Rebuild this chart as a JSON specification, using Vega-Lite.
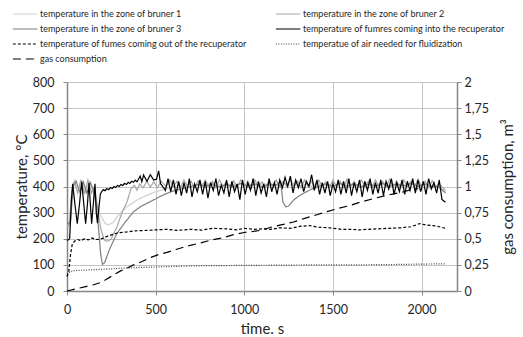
{
  "$schema": "https://vega.github.io/schema/vega-lite/v6.json",
  "autosize": {"type": "none"},
  "width": 390,
  "height": 209,
  "padding": {"left": 67, "top": 82, "right": 66, "bottom": 46},
  "config": {
    "view": {"stroke": null},
    "font": "Lato",
    "axis": {"domainColor": "#868686", "domainWidth": 1.5, "tickColor": "#868686", "tickSize": 4, "gridColor": "#c4c4c4", "gridWidth": 1, "labelFont": "Lato", "labelFontSize": 12.5, "labelColor": "#262626", "titleFont": "Lato", "titleFontSize": 15, "titleFontWeight": "normal", "titleColor": "#262626"},
    "legend": {"orient": "none", "direction": "horizontal", "legendX": -55, "legendY": -75, "columns": 2, "columnPadding": 26, "rowPadding": 3, "symbolType": "M-1,0H3", "symbolSize": 150, "labelFont": "Lato", "labelFontSize": 9, "labelLimit": 400, "labelColor": "#262626", "labelOffset": 14, "title": null}
  },
  "datasets": {
    "temps": [
      {"s":"b1","t":0,"v":250},{"s":"b1","t":15,"v":245},{"s":"b1","t":28,"v":390},{"s":"b1","t":45,"v":425},{"s":"b1","t":65,"v":385},{"s":"b1","t":85,"v":420},{"s":"b1","t":105,"v":378},{"s":"b1","t":125,"v":420},{"s":"b1","t":145,"v":385},{"s":"b1","t":165,"v":340},{"s":"b1","t":190,"v":290},{"s":"b1","t":215,"v":258},{"s":"b1","t":235,"v":253},{"s":"b1","t":260,"v":262},{"s":"b1","t":290,"v":290},{"s":"b1","t":338,"v":323},{"s":"b1","t":400,"v":350},{"s":"b1","t":451,"v":367},{"s":"b1","t":500,"v":380},{"s":"b1","t":564,"v":393},{"s":"b1","t":600,"v":398},{"s":"b1","t":630,"v":405},{"s":"b1","t":660,"v":398},{"s":"b1","t":690,"v":410},{"s":"b1","t":720,"v":400},{"s":"b1","t":750,"v":412},{"s":"b1","t":780,"v":402},{"s":"b1","t":810,"v":415},{"s":"b1","t":840,"v":400},{"s":"b1","t":870,"v":410},{"s":"b1","t":900,"v":398},{"s":"b1","t":930,"v":412},{"s":"b1","t":960,"v":402},{"s":"b1","t":990,"v":415},{"s":"b1","t":1020,"v":400},{"s":"b1","t":1050,"v":410},{"s":"b1","t":1080,"v":398},{"s":"b1","t":1110,"v":412},{"s":"b1","t":1140,"v":402},{"s":"b1","t":1170,"v":410},{"s":"b1","t":1200,"v":400},{"s":"b1","t":1230,"v":412},{"s":"b1","t":1260,"v":405},{"s":"b1","t":1290,"v":415},{"s":"b1","t":1320,"v":400},{"s":"b1","t":1350,"v":410},{"s":"b1","t":1380,"v":402},{"s":"b1","t":1410,"v":415},{"s":"b1","t":1440,"v":400},{"s":"b1","t":1470,"v":410},{"s":"b1","t":1500,"v":398},{"s":"b1","t":1530,"v":412},{"s":"b1","t":1560,"v":402},{"s":"b1","t":1590,"v":415},{"s":"b1","t":1620,"v":400},{"s":"b1","t":1650,"v":410},{"s":"b1","t":1680,"v":398},{"s":"b1","t":1710,"v":412},{"s":"b1","t":1740,"v":402},{"s":"b1","t":1770,"v":415},{"s":"b1","t":1800,"v":400},{"s":"b1","t":1830,"v":412},{"s":"b1","t":1860,"v":402},{"s":"b1","t":1890,"v":410},{"s":"b1","t":1920,"v":400},{"s":"b1","t":1950,"v":415},{"s":"b1","t":1980,"v":402},{"s":"b1","t":2010,"v":410},{"s":"b1","t":2040,"v":398},{"s":"b1","t":2070,"v":405},{"s":"b1","t":2100,"v":395},{"s":"b1","t":2135,"v":380},

      {"s":"b2","t":0,"v":245},{"s":"b2","t":12,"v":255},{"s":"b2","t":25,"v":360},{"s":"b2","t":40,"v":420},{"s":"b2","t":60,"v":375},{"s":"b2","t":78,"v":425},{"s":"b2","t":98,"v":372},{"s":"b2","t":118,"v":425},{"s":"b2","t":138,"v":375},{"s":"b2","t":155,"v":400},{"s":"b2","t":170,"v":330},{"s":"b2","t":190,"v":240},{"s":"b2","t":210,"v":195},{"s":"b2","t":230,"v":190},{"s":"b2","t":250,"v":200},{"s":"b2","t":282,"v":246},{"s":"b2","t":310,"v":300},{"s":"b2","t":338,"v":340},{"s":"b2","t":360,"v":390},{"s":"b2","t":380,"v":405},{"s":"b2","t":395,"v":385},{"s":"b2","t":410,"v":410},{"s":"b2","t":430,"v":395},{"s":"b2","t":450,"v":420},{"s":"b2","t":470,"v":398},{"s":"b2","t":490,"v":418},{"s":"b2","t":510,"v":395},{"s":"b2","t":530,"v":420},{"s":"b2","t":560,"v":400},{"s":"b2","t":580,"v":425},{"s":"b2","t":600,"v":398},{"s":"b2","t":620,"v":420},{"s":"b2","t":640,"v":395},{"s":"b2","t":660,"v":425},{"s":"b2","t":680,"v":400},{"s":"b2","t":700,"v":420},{"s":"b2","t":720,"v":395},{"s":"b2","t":740,"v":422},{"s":"b2","t":760,"v":400},{"s":"b2","t":780,"v":425},{"s":"b2","t":800,"v":398},{"s":"b2","t":820,"v":420},{"s":"b2","t":840,"v":395},{"s":"b2","t":860,"v":425},{"s":"b2","t":880,"v":400},{"s":"b2","t":900,"v":418},{"s":"b2","t":920,"v":395},{"s":"b2","t":940,"v":422},{"s":"b2","t":960,"v":398},{"s":"b2","t":980,"v":425},{"s":"b2","t":1000,"v":400},{"s":"b2","t":1020,"v":420},{"s":"b2","t":1040,"v":395},{"s":"b2","t":1060,"v":425},{"s":"b2","t":1080,"v":400},{"s":"b2","t":1100,"v":418},{"s":"b2","t":1120,"v":395},{"s":"b2","t":1140,"v":422},{"s":"b2","t":1160,"v":400},{"s":"b2","t":1180,"v":425},{"s":"b2","t":1200,"v":398},{"s":"b2","t":1220,"v":420},{"s":"b2","t":1240,"v":400},{"s":"b2","t":1260,"v":428},{"s":"b2","t":1280,"v":400},{"s":"b2","t":1300,"v":420},{"s":"b2","t":1320,"v":395},{"s":"b2","t":1340,"v":425},{"s":"b2","t":1360,"v":400},{"s":"b2","t":1380,"v":420},{"s":"b2","t":1400,"v":395},{"s":"b2","t":1420,"v":425},{"s":"b2","t":1440,"v":400},{"s":"b2","t":1460,"v":418},{"s":"b2","t":1480,"v":395},{"s":"b2","t":1500,"v":425},{"s":"b2","t":1520,"v":400},{"s":"b2","t":1540,"v":420},{"s":"b2","t":1560,"v":395},{"s":"b2","t":1580,"v":428},{"s":"b2","t":1600,"v":400},{"s":"b2","t":1620,"v":420},{"s":"b2","t":1640,"v":398},{"s":"b2","t":1660,"v":425},{"s":"b2","t":1680,"v":400},{"s":"b2","t":1700,"v":420},{"s":"b2","t":1720,"v":395},{"s":"b2","t":1740,"v":425},{"s":"b2","t":1760,"v":400},{"s":"b2","t":1780,"v":420},{"s":"b2","t":1800,"v":398},{"s":"b2","t":1820,"v":428},{"s":"b2","t":1840,"v":400},{"s":"b2","t":1860,"v":420},{"s":"b2","t":1880,"v":395},{"s":"b2","t":1900,"v":425},{"s":"b2","t":1920,"v":400},{"s":"b2","t":1940,"v":420},{"s":"b2","t":1960,"v":398},{"s":"b2","t":1980,"v":428},{"s":"b2","t":2000,"v":400},{"s":"b2","t":2020,"v":420},{"s":"b2","t":2040,"v":395},{"s":"b2","t":2060,"v":422},{"s":"b2","t":2080,"v":400},{"s":"b2","t":2100,"v":410},{"s":"b2","t":2135,"v":385},

      {"s":"b3","t":0,"v":255},{"s":"b3","t":20,"v":265},{"s":"b3","t":35,"v":400},{"s":"b3","t":52,"v":420},{"s":"b3","t":72,"v":378},{"s":"b3","t":92,"v":418},{"s":"b3","t":112,"v":375},{"s":"b3","t":132,"v":415},{"s":"b3","t":152,"v":380},{"s":"b3","t":165,"v":330},{"s":"b3","t":178,"v":240},{"s":"b3","t":190,"v":140},{"s":"b3","t":200,"v":102},{"s":"b3","t":212,"v":108},{"s":"b3","t":240,"v":160},{"s":"b3","t":282,"v":221},{"s":"b3","t":330,"v":265},{"s":"b3","t":376,"v":304},{"s":"b3","t":420,"v":325},{"s":"b3","t":470,"v":342},{"s":"b3","t":520,"v":360},{"s":"b3","t":564,"v":374},{"s":"b3","t":610,"v":385},{"s":"b3","t":658,"v":393},{"s":"b3","t":700,"v":400},{"s":"b3","t":740,"v":408},{"s":"b3","t":780,"v":400},{"s":"b3","t":820,"v":410},{"s":"b3","t":860,"v":398},{"s":"b3","t":900,"v":408},{"s":"b3","t":940,"v":400},{"s":"b3","t":980,"v":412},{"s":"b3","t":1020,"v":400},{"s":"b3","t":1060,"v":410},{"s":"b3","t":1100,"v":398},{"s":"b3","t":1140,"v":410},{"s":"b3","t":1180,"v":405},{"s":"b3","t":1205,"v":420},{"s":"b3","t":1218,"v":340},{"s":"b3","t":1235,"v":322},{"s":"b3","t":1250,"v":325},{"s":"b3","t":1278,"v":348},{"s":"b3","t":1305,"v":362},{"s":"b3","t":1335,"v":374},{"s":"b3","t":1365,"v":385},{"s":"b3","t":1391,"v":393},{"s":"b3","t":1420,"v":400},{"s":"b3","t":1460,"v":410},{"s":"b3","t":1500,"v":400},{"s":"b3","t":1540,"v":412},{"s":"b3","t":1580,"v":400},{"s":"b3","t":1620,"v":410},{"s":"b3","t":1660,"v":398},{"s":"b3","t":1700,"v":410},{"s":"b3","t":1740,"v":400},{"s":"b3","t":1780,"v":412},{"s":"b3","t":1820,"v":400},{"s":"b3","t":1860,"v":410},{"s":"b3","t":1900,"v":402},{"s":"b3","t":1940,"v":412},{"s":"b3","t":1980,"v":400},{"s":"b3","t":2020,"v":410},{"s":"b3","t":2060,"v":400},{"s":"b3","t":2100,"v":398},{"s":"b3","t":2135,"v":375},

      {"s":"ai","t":0,"v":65},{"s":"ai","t":15,"v":72},{"s":"ai","t":40,"v":78},{"s":"ai","t":100,"v":80},{"s":"ai","t":200,"v":83},{"s":"ai","t":300,"v":87},{"s":"ai","t":400,"v":90},{"s":"ai","t":500,"v":92},{"s":"ai","t":600,"v":94},{"s":"ai","t":700,"v":96},{"s":"ai","t":800,"v":97},{"s":"ai","t":1000,"v":98},{"s":"ai","t":1200,"v":99},{"s":"ai","t":1400,"v":100},{"s":"ai","t":1600,"v":100},{"s":"ai","t":1800,"v":101},{"s":"ai","t":2000,"v":103},{"s":"ai","t":2135,"v":104},

      {"s":"fo","t":0,"v":55},{"s":"fo","t":10,"v":75},{"s":"fo","t":20,"v":140},{"s":"fo","t":30,"v":180},{"s":"fo","t":45,"v":192},{"s":"fo","t":60,"v":197},{"s":"fo","t":80,"v":193},{"s":"fo","t":100,"v":200},{"s":"fo","t":120,"v":196},{"s":"fo","t":140,"v":203},{"s":"fo","t":160,"v":197},{"s":"fo","t":188,"v":198},{"s":"fo","t":230,"v":210},{"s":"fo","t":282,"v":222},{"s":"fo","t":338,"v":226},{"s":"fo","t":376,"v":230},{"s":"fo","t":450,"v":232},{"s":"fo","t":500,"v":234},{"s":"fo","t":564,"v":236},{"s":"fo","t":620,"v":232},{"s":"fo","t":700,"v":236},{"s":"fo","t":760,"v":233},{"s":"fo","t":820,"v":240},{"s":"fo","t":900,"v":238},{"s":"fo","t":960,"v":234},{"s":"fo","t":1000,"v":240},{"s":"fo","t":1060,"v":236},{"s":"fo","t":1100,"v":238},{"s":"fo","t":1150,"v":236},{"s":"fo","t":1200,"v":242},{"s":"fo","t":1260,"v":240},{"s":"fo","t":1320,"v":248},{"s":"fo","t":1370,"v":250},{"s":"fo","t":1420,"v":244},{"s":"fo","t":1480,"v":242},{"s":"fo","t":1550,"v":236},{"s":"fo","t":1600,"v":236},{"s":"fo","t":1650,"v":234},{"s":"fo","t":1700,"v":236},{"s":"fo","t":1760,"v":238},{"s":"fo","t":1820,"v":240},{"s":"fo","t":1880,"v":242},{"s":"fo","t":1940,"v":246},{"s":"fo","t":1990,"v":258},{"s":"fo","t":2030,"v":252},{"s":"fo","t":2070,"v":250},{"s":"fo","t":2100,"v":246},{"s":"fo","t":2135,"v":240},

      {"s":"fi","t":0,"v":193},{"s":"fi","t":15,"v":200},{"s":"fi","t":25,"v":350},{"s":"fi","t":32,"v":410},{"s":"fi","t":45,"v":330},{"s":"fi","t":58,"v":258},{"s":"fi","t":70,"v":330},{"s":"fi","t":83,"v":418},{"s":"fi","t":95,"v":330},{"s":"fi","t":105,"v":258},{"s":"fi","t":115,"v":330},{"s":"fi","t":124,"v":413},{"s":"fi","t":132,"v":330},{"s":"fi","t":139,"v":258},{"s":"fi","t":148,"v":330},{"s":"fi","t":158,"v":410},{"s":"fi","t":165,"v":300},{"s":"fi","t":172,"v":260},{"s":"fi","t":180,"v":320},{"s":"fi","t":188,"v":370},{"s":"fi","t":195,"v":380},{"s":"fi","t":205,"v":388},{"s":"fi","t":215,"v":384},{"s":"fi","t":225,"v":392},{"s":"fi","t":235,"v":388},{"s":"fi","t":245,"v":396},{"s":"fi","t":255,"v":392},{"s":"fi","t":265,"v":400},{"s":"fi","t":275,"v":396},{"s":"fi","t":285,"v":404},{"s":"fi","t":295,"v":400},{"s":"fi","t":305,"v":408},{"s":"fi","t":315,"v":404},{"s":"fi","t":325,"v":412},{"s":"fi","t":335,"v":408},{"s":"fi","t":345,"v":416},{"s":"fi","t":355,"v":412},{"s":"fi","t":365,"v":420},{"s":"fi","t":375,"v":416},{"s":"fi","t":385,"v":424},{"s":"fi","t":395,"v":418},{"s":"fi","t":413,"v":440},{"s":"fi","t":422,"v":418},{"s":"fi","t":432,"v":444},{"s":"fi","t":451,"v":420},{"s":"fi","t":470,"v":445},{"s":"fi","t":489,"v":425},{"s":"fi","t":505,"v":428},{"s":"fi","t":517,"v":460},{"s":"fi","t":528,"v":410},{"s":"fi","t":540,"v":400},
      {"s":"fi","t":555,"v":385},{"s":"fi","t":570,"v":430},{"s":"fi","t":585,"v":380},{"s":"fi","t":600,"v":425},{"s":"fi","t":615,"v":370},{"s":"fi","t":630,"v":420},{"s":"fi","t":645,"v":365},{"s":"fi","t":660,"v":415},{"s":"fi","t":675,"v":375},{"s":"fi","t":690,"v":430},{"s":"fi","t":705,"v":360},{"s":"fi","t":720,"v":410},{"s":"fi","t":735,"v":380},{"s":"fi","t":750,"v":425},{"s":"fi","t":765,"v":370},{"s":"fi","t":780,"v":420},{"s":"fi","t":795,"v":355},{"s":"fi","t":810,"v":415},{"s":"fi","t":825,"v":385},{"s":"fi","t":840,"v":430},{"s":"fi","t":855,"v":365},{"s":"fi","t":870,"v":405},{"s":"fi","t":885,"v":375},{"s":"fi","t":900,"v":425},{"s":"fi","t":915,"v":360},{"s":"fi","t":930,"v":420},{"s":"fi","t":945,"v":380},{"s":"fi","t":960,"v":410},{"s":"fi","t":975,"v":350},{"s":"fi","t":990,"v":425},{"s":"fi","t":1005,"v":370},{"s":"fi","t":1020,"v":415},{"s":"fi","t":1035,"v":385},{"s":"fi","t":1050,"v":430},{"s":"fi","t":1065,"v":365},{"s":"fi","t":1080,"v":420},{"s":"fi","t":1095,"v":375},{"s":"fi","t":1110,"v":410},{"s":"fi","t":1125,"v":360},{"s":"fi","t":1140,"v":430},{"s":"fi","t":1155,"v":380},{"s":"fi","t":1170,"v":415},{"s":"fi","t":1185,"v":370},{"s":"fi","t":1200,"v":425},{"s":"fi","t":1215,"v":395},{"s":"fi","t":1230,"v":435},{"s":"fi","t":1245,"v":400},{"s":"fi","t":1260,"v":440},{"s":"fi","t":1275,"v":375},{"s":"fi","t":1290,"v":425},{"s":"fi","t":1305,"v":395},{"s":"fi","t":1320,"v":430},{"s":"fi","t":1335,"v":380},{"s":"fi","t":1350,"v":420},{"s":"fi","t":1365,"v":400},{"s":"fi","t":1380,"v":445},{"s":"fi","t":1395,"v":385},{"s":"fi","t":1410,"v":425},{"s":"fi","t":1425,"v":370},{"s":"fi","t":1440,"v":415},{"s":"fi","t":1455,"v":375},{"s":"fi","t":1470,"v":420},{"s":"fi","t":1485,"v":365},{"s":"fi","t":1500,"v":410},{"s":"fi","t":1515,"v":380},{"s":"fi","t":1530,"v":425},{"s":"fi","t":1545,"v":370},{"s":"fi","t":1560,"v":420},{"s":"fi","t":1575,"v":375},{"s":"fi","t":1590,"v":430},{"s":"fi","t":1605,"v":365},{"s":"fi","t":1620,"v":415},{"s":"fi","t":1635,"v":380},{"s":"fi","t":1650,"v":425},{"s":"fi","t":1665,"v":360},{"s":"fi","t":1680,"v":420},{"s":"fi","t":1695,"v":385},{"s":"fi","t":1710,"v":430},{"s":"fi","t":1725,"v":370},{"s":"fi","t":1740,"v":415},{"s":"fi","t":1755,"v":375},{"s":"fi","t":1770,"v":425},{"s":"fi","t":1785,"v":365},{"s":"fi","t":1800,"v":420},{"s":"fi","t":1815,"v":390},{"s":"fi","t":1830,"v":430},{"s":"fi","t":1845,"v":370},{"s":"fi","t":1860,"v":415},{"s":"fi","t":1875,"v":380},{"s":"fi","t":1890,"v":425},{"s":"fi","t":1905,"v":370},{"s":"fi","t":1920,"v":420},{"s":"fi","t":1935,"v":385},{"s":"fi","t":1950,"v":430},{"s":"fi","t":1965,"v":375},{"s":"fi","t":1980,"v":425},{"s":"fi","t":1995,"v":380},{"s":"fi","t":2010,"v":420},{"s":"fi","t":2025,"v":370},{"s":"fi","t":2040,"v":430},{"s":"fi","t":2055,"v":390},{"s":"fi","t":2070,"v":415},{"s":"fi","t":2085,"v":375},{"s":"fi","t":2100,"v":425},{"s":"fi","t":2115,"v":350},{"s":"fi","t":2135,"v":340}
    ],
    "gas": [
      {"s":"gas","t":0,"v":0},{"s":"gas","t":50,"v":0.02},{"s":"gas","t":100,"v":0.04},{"s":"gas","t":150,"v":0.06},{"s":"gas","t":188,"v":0.08},{"s":"gas","t":220,"v":0.11},{"s":"gas","t":260,"v":0.15},{"s":"gas","t":300,"v":0.19},{"s":"gas","t":340,"v":0.22},{"s":"gas","t":376,"v":0.25},{"s":"gas","t":420,"v":0.28},{"s":"gas","t":470,"v":0.32},{"s":"gas","t":520,"v":0.35},{"s":"gas","t":564,"v":0.37},{"s":"gas","t":620,"v":0.4},{"s":"gas","t":680,"v":0.43},{"s":"gas","t":752,"v":0.46},{"s":"gas","t":820,"v":0.49},{"s":"gas","t":880,"v":0.51},{"s":"gas","t":940,"v":0.54},{"s":"gas","t":1000,"v":0.56},{"s":"gas","t":1050,"v":0.57},{"s":"gas","t":1090,"v":0.58},{"s":"gas","t":1150,"v":0.61},{"s":"gas","t":1200,"v":0.63},{"s":"gas","t":1278,"v":0.66},{"s":"gas","t":1350,"v":0.7},{"s":"gas","t":1410,"v":0.73},{"s":"gas","t":1467,"v":0.76},{"s":"gas","t":1530,"v":0.79},{"s":"gas","t":1600,"v":0.82},{"s":"gas","t":1654,"v":0.85},{"s":"gas","t":1720,"v":0.88},{"s":"gas","t":1790,"v":0.91},{"s":"gas","t":1842,"v":0.93},{"s":"gas","t":1900,"v":0.95},{"s":"gas","t":1940,"v":0.97},{"s":"gas","t":1980,"v":0.98}
    ]
  },
  "encoding": {
    "x": {"field": "t", "type": "quantitative", "scale": {"domain": [0, 2200], "nice": false},
      "axis": {"title": "time. s", "values": [0, 500, 1000, 1500, 2000], "format": "d", "labelPadding": 8, "titlePadding": 6, "labelFlush": false}},
    "color": {"field": "s", "type": "nominal",
      "scale": {"domain": ["b1","b2","b3","fi","fo","ai","gas"], "range": ["#d0d0d0","#a6a6a6","#7f7f7f","#000000","#000000","#444444","#000000"]},
      "legend": {"labelExpr": "{'b1':'temperature in the zone of bruner 1','b2':'temperature in the zone of bruner 2','b3':'temperature in the zone of bruner 3','fi':'temperature of fumres coming into the recuperator','fo':'temperature of fumes coming out of the recuperator','ai':'temperatue of air needed for fluidization','gas':'gas consumption'}[datum.value]"}},
    "strokeDash": {"field": "s", "type": "nominal",
      "scale": {"domain": ["b1","b2","b3","fi","fo","ai","gas"], "range": [[1,0],[1,0],[1,0],[1,0],[3,2],[1,1.5],[8,5]]},
      "legend": {"labelExpr": "{'b1':'temperature in the zone of bruner 1','b2':'temperature in the zone of bruner 2','b3':'temperature in the zone of bruner 3','fi':'temperature of fumres coming into the recuperator','fo':'temperature of fumes coming out of the recuperator','ai':'temperatue of air needed for fluidization','gas':'gas consumption'}[datum.value]"}},
    "strokeWidth": {"field": "s", "type": "nominal",
      "scale": {"domain": ["b1","b2","b3","fi","fo","ai","gas"], "range": [1.2,1.2,1.2,1.8,1.3,1.2,1.5]},
      "legend": {"labelExpr": "{'b1':'temperature in the zone of bruner 1','b2':'temperature in the zone of bruner 2','b3':'temperature in the zone of bruner 3','fi':'temperature of fumres coming into the recuperator','fo':'temperature of fumes coming out of the recuperator','ai':'temperatue of air needed for fluidization','gas':'gas consumption'}[datum.value]"}}
  },
  "layer": [
    {
      "data": {"name": "temps"},
      "mark": {"type": "line"},
      "encoding": {
        "y": {"field": "v", "type": "quantitative", "scale": {"domain": [0, 800], "nice": false},
          "axis": {"title": "temperature, °C", "values": [0,100,200,300,400,500,600,700,800], "format": "d", "labelPadding": 9, "titlePadding": 3}}
      }
    },
    {
      "data": {"name": "gas"},
      "mark": {"type": "line"},
      "encoding": {
        "y": {"field": "v", "type": "quantitative", "scale": {"domain": [0, 2], "nice": false},
          "axis": {"orient": "right", "title": "gas consumption, m³", "titleAngle": 270, "titleBaseline": "top", "grid": false, "values": [0,0.25,0.5,0.75,1,1.25,1.5,1.75,2], "format": ".2~f", "labelExpr": "replace(datum.label, '.', ',')", "labelPadding": 3, "titlePadding": 12}}
      }
    }
  ],
  "resolve": {"scale": {"y": "independent"}}
}
